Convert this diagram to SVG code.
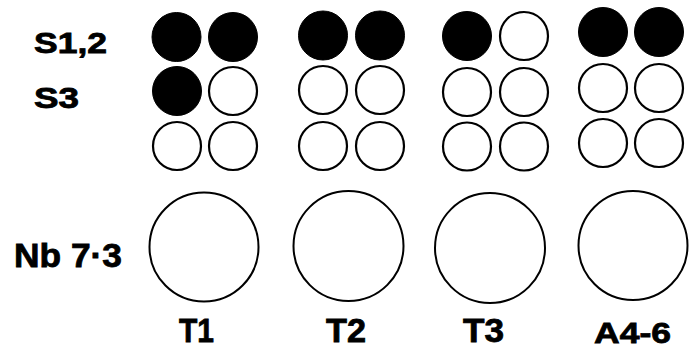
<svg xmlns="http://www.w3.org/2000/svg" width="693" height="349" viewBox="0 0 693 349">
<style>
.f{fill:#000;stroke:#000;stroke-width:1}
.o{fill:#fff;stroke:#000;stroke-width:2.2}
.b{fill:#fff;stroke:#000;stroke-width:2}
text{font-family:"Liberation Sans",Arial,sans-serif;font-weight:bold;fill:#000;stroke:#000;stroke-width:0.8}
</style>
<rect width="693" height="349" fill="#fff"/>
<g id="labels">
<text x="34" y="53" font-size="29" textLength="73" lengthAdjust="spacingAndGlyphs">S1,2</text>
<text x="34" y="108" font-size="29" textLength="45" lengthAdjust="spacingAndGlyphs">S3</text>
<text x="14" y="266.5" font-size="33" textLength="108" lengthAdjust="spacingAndGlyphs">Nb 7·3</text>
<text x="179" y="342" font-size="34" textLength="35" lengthAdjust="spacingAndGlyphs">T1</text>
<text x="326" y="342" font-size="34" textLength="40" lengthAdjust="spacingAndGlyphs">T2</text>
<text x="463" y="342" font-size="34" textLength="41" lengthAdjust="spacingAndGlyphs">T3</text>
<text x="594" y="342.5" font-size="30" textLength="77" lengthAdjust="spacingAndGlyphs">A4-6</text>
</g>
<g id="T1">
<circle class="f" cx="176.5" cy="37" r="24.5"/>
<circle class="f" cx="233" cy="37" r="24.5"/>
<circle class="f" cx="177" cy="91" r="24.5"/>
<circle class="o" cx="233" cy="91" r="24"/>
<circle class="o" cx="177" cy="146" r="24"/>
<circle class="o" cx="233" cy="146" r="24"/>
<circle class="b" cx="204" cy="247" r="54.5"/>
</g>
<g id="T2">
<circle class="f" cx="323" cy="35.5" r="24.5"/>
<circle class="f" cx="380" cy="35.5" r="24.5"/>
<circle class="o" cx="323" cy="90" r="24"/>
<circle class="o" cx="380" cy="90" r="24"/>
<circle class="o" cx="323" cy="146" r="24"/>
<circle class="o" cx="380" cy="146" r="24"/>
<circle class="b" cx="348.5" cy="246" r="55"/>
</g>
<g id="T3">
<circle class="f" cx="467" cy="36" r="24.5"/>
<circle class="o" cx="524" cy="36" r="24"/>
<circle class="o" cx="467" cy="92" r="24"/>
<circle class="o" cx="524" cy="92" r="24"/>
<circle class="o" cx="467" cy="146.5" r="24"/>
<circle class="o" cx="524" cy="146.5" r="24"/>
<circle class="b" cx="490" cy="248" r="55"/>
</g>
<g id="A4-6">
<circle class="f" cx="603" cy="32" r="24.5"/>
<circle class="f" cx="659" cy="32" r="24.5"/>
<circle class="o" cx="603" cy="88" r="24"/>
<circle class="o" cx="659" cy="88" r="24"/>
<circle class="o" cx="603" cy="143" r="24"/>
<circle class="o" cx="659" cy="143" r="24"/>
<circle class="b" cx="633" cy="245.5" r="54.5"/>
</g>
</svg>
